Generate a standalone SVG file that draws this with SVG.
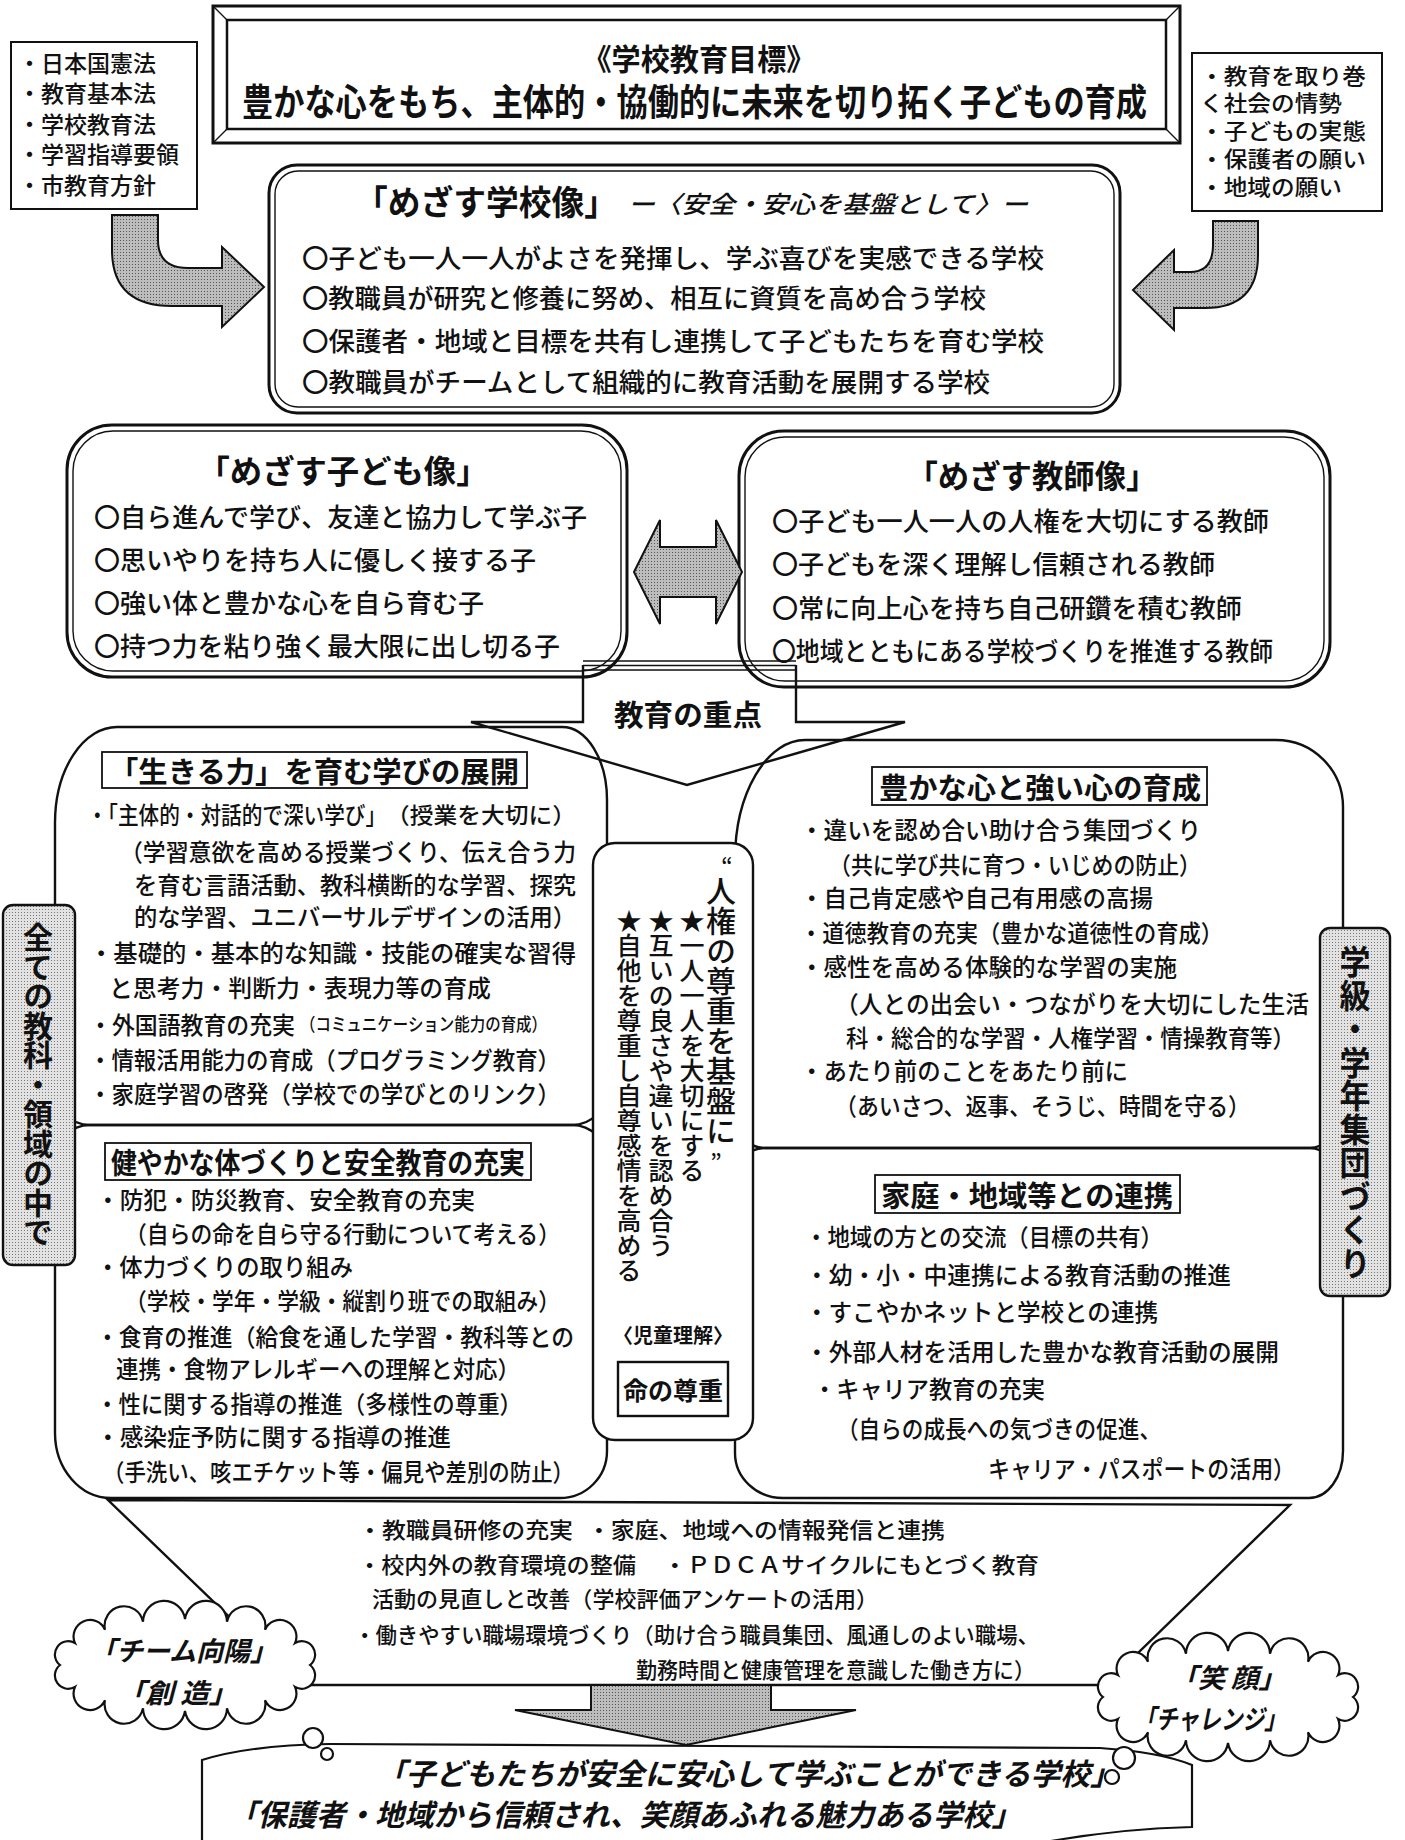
<svg xmlns="http://www.w3.org/2000/svg" width="1405" height="1840" viewBox="0 0 1405 1840">
<defs>
<style>
text{font-family:"Noto Sans CJK JP","Noto Sans CJK SC",sans-serif;fill:#111;dominant-baseline:central;font-weight:500}
.b{font-weight:700}
.i{font-style:italic}
.f24{font-size:24px}
.f23{font-size:23px}
.f26{font-size:26px}
.f22{font-size:22px}
.ln{fill:none;stroke:#111;stroke-width:2.4}
.th{fill:none;stroke:#111;stroke-width:1.4}
.wb{fill:#fff;stroke:#111;stroke-width:2.2}
.hb{fill:#fff;stroke:#111;stroke-width:1.8}
.ar{fill:url(#st2);stroke:#111;stroke-width:2}
.bn{fill:url(#st1);stroke:#111;stroke-width:2.4}
.v{writing-mode:vertical-rl}
</style>
<pattern id="st1" width="3" height="3" patternUnits="userSpaceOnUse"><rect width="3" height="3" fill="#e2e2e2"/><rect width="1" height="1" fill="#777"/></pattern>
<pattern id="st2" width="3" height="3" patternUnits="userSpaceOnUse"><rect width="3" height="3" fill="#bdbdbd"/><rect width="1" height="1" fill="#555"/></pattern>
</defs>
<rect width="1405" height="1840" fill="#fff"/>

<g id="title">
  <rect x="213" y="6" width="967" height="137" fill="#fff" stroke="#111" stroke-width="3"/>
  <rect x="227" y="20" width="939" height="109" fill="none" stroke="#111" stroke-width="2.5"/>
  <path class="th" d="M213,6 L227,20 M1180,6 L1166,20 M213,143 L227,129 M1180,143 L1166,129"/>
  <text x="699" y="57" class="b" font-size="30" text-anchor="middle" textLength="233" lengthAdjust="spacingAndGlyphs">《学校教育目標》</text>
  <text x="242" y="100" class="b" font-size="37" textLength="905" lengthAdjust="spacingAndGlyphs">豊かな心をもち、主体的・協働的に未来を切り拓く子どもの育成</text>
</g>

<g id="laws">
  <rect x="11" y="42" width="186" height="167" fill="#fff" stroke="#111" stroke-width="2"/>
  <text x="18" y="62" class="f23">・日本国憲法</text>
  <text x="18" y="92" class="f23">・教育基本法</text>
  <text x="18" y="123" class="f23">・学校教育法</text>
  <text x="18" y="153" class="f23">・学習指導要領</text>
  <text x="18" y="184" class="f23">・市教育方針</text>
</g>

<g id="context">
  <rect x="1192" y="53" width="190" height="158" fill="#fff" stroke="#111" stroke-width="2"/>
  <text x="1200" y="74" class="f22" textLength="166" lengthAdjust="spacingAndGlyphs">・教育を取り巻</text>
  <text x="1200" y="101" class="f22" textLength="142" lengthAdjust="spacingAndGlyphs">く社会の情勢</text>
  <text x="1200" y="129" class="f22" textLength="166" lengthAdjust="spacingAndGlyphs">・子どもの実態</text>
  <text x="1200" y="157" class="f22" textLength="166" lengthAdjust="spacingAndGlyphs">・保護者の願い</text>
  <text x="1200" y="185" class="f22" textLength="142" lengthAdjust="spacingAndGlyphs">・地域の願い</text>
</g>

<g id="school">
  <rect x="269" y="165" width="851" height="248" rx="28" fill="#fff" stroke="#111" stroke-width="3"/>
  <rect x="275" y="171" width="839" height="236" rx="23" class="th"/>
  <text x="355" y="200" class="b" font-size="34" textLength="262" lengthAdjust="spacingAndGlyphs">「めざす学校像」</text>
  <text x="628" y="202" class="i" font-size="24" textLength="400" lengthAdjust="spacingAndGlyphs">ー〈安全・安心を基盤として〉ー</text>
  <text x="302" y="256" class="f26" textLength="742" lengthAdjust="spacingAndGlyphs">〇子ども一人一人がよさを発揮し、学ぶ喜びを実感できる学校</text>
  <text x="302" y="296" class="f26" textLength="684" lengthAdjust="spacingAndGlyphs">〇教職員が研究と修養に努め、相互に資質を高め合う学校</text>
  <text x="302" y="339" class="f26" textLength="742" lengthAdjust="spacingAndGlyphs">〇保護者・地域と目標を共有し連携して子どもたちを育む学校</text>
  <text x="302" y="380" class="f26" textLength="688" lengthAdjust="spacingAndGlyphs">〇教職員がチームとして組織的に教育活動を展開する学校</text>
</g>

<g id="child">
  <rect x="67" y="425" width="560" height="252" rx="45" fill="#fff" stroke="#111" stroke-width="3"/>
  <rect x="73" y="431" width="548" height="240" rx="40" class="th"/>
  <text x="343" y="469" class="b" font-size="32" text-anchor="middle" textLength="291" lengthAdjust="spacingAndGlyphs">「めざす子ども像」</text>
  <text x="94" y="515" class="f26" textLength="493" lengthAdjust="spacingAndGlyphs">〇自ら進んで学び、友達と協力して学ぶ子</text>
  <text x="94" y="558" class="f26" textLength="442" lengthAdjust="spacingAndGlyphs">〇思いやりを持ち人に優しく接する子</text>
  <text x="94" y="601" class="f26" textLength="390" lengthAdjust="spacingAndGlyphs">〇強い体と豊かな心を自ら育む子</text>
  <text x="94" y="644" class="f26" textLength="466" lengthAdjust="spacingAndGlyphs">〇持つ力を粘り強く最大限に出し切る子</text>
</g>

<g id="teacher">
  <rect x="739" y="431" width="591" height="256" rx="45" fill="#fff" stroke="#111" stroke-width="3"/>
  <rect x="745" y="437" width="579" height="244" rx="40" class="th"/>
  <text x="1032" y="474" class="b" font-size="32" text-anchor="middle" textLength="251" lengthAdjust="spacingAndGlyphs">「めざす教師像」</text>
  <text x="772" y="519" class="f26" textLength="497" lengthAdjust="spacingAndGlyphs">〇子ども一人一人の人権を大切にする教師</text>
  <text x="772" y="562" class="f26" textLength="443" lengthAdjust="spacingAndGlyphs">〇子どもを深く理解し信頼される教師</text>
  <text x="772" y="606" class="f26" textLength="470" lengthAdjust="spacingAndGlyphs">〇常に向上心を持ち自己研鑽を積む教師</text>
  <text x="772" y="649" class="f26" textLength="501" lengthAdjust="spacingAndGlyphs">〇地域とともにある学校づくりを推進する教師</text>
</g>

<g id="bubble-ikiru">
  <path class="ln" d="M117,727 H562 A45,73 0 0 1 607,800 V1090 A35,35 0 0 1 572,1125 H90 A35,35 0 0 1 55,1090 V823 A62,96 0 0 1 117,727 Z"/>
  <rect x="102" y="752" width="425" height="36" class="hb"/>
  <text x="314" y="770" class="b" font-size="29" text-anchor="middle" textLength="410" lengthAdjust="spacingAndGlyphs">「生きる力」を育む学びの展開</text>
  <text x="87" y="813" class="f24" textLength="299" lengthAdjust="spacingAndGlyphs">・「主体的・対話的で深い学び」</text>
  <text x="386" y="813" class="f22" textLength="190" lengthAdjust="spacingAndGlyphs">（授業を大切に）</text>
  <text x="120" y="850" class="f24" textLength="456" lengthAdjust="spacingAndGlyphs">（学習意欲を高める授業づくり、伝え合う力</text>
  <text x="134" y="883" class="f24" textLength="442" lengthAdjust="spacingAndGlyphs">を育む言語活動、教科横断的な学習、探究</text>
  <text x="134" y="915" class="f24" textLength="442" lengthAdjust="spacingAndGlyphs">的な学習、ユニバーサルデザインの活用）</text>
  <text x="89" y="951" class="f24" textLength="487" lengthAdjust="spacingAndGlyphs">・基礎的・基本的な知識・技能の確実な習得</text>
  <text x="109" y="986" class="f24" textLength="382" lengthAdjust="spacingAndGlyphs">と思考力・判断力・表現力等の育成</text>
  <text x="89" y="1023" class="f24" textLength="206" lengthAdjust="spacingAndGlyphs">・外国語教育の充実</text>
  <text x="300" y="1023" font-size="18" textLength="247" lengthAdjust="spacingAndGlyphs">（コミュニケーション能力の育成）</text>
  <text x="89" y="1058" class="f24" textLength="471" lengthAdjust="spacingAndGlyphs">・情報活用能力の育成（プログラミング教育）</text>
  <text x="89" y="1092" class="f24" textLength="471" lengthAdjust="spacingAndGlyphs">・家庭学習の啓発（学校での学びとのリンク）</text>
</g>

<g id="bubble-yutaka">
  <path class="ln" d="M805,740 H1276 A67,67 0 0 1 1343,807 V1113 A35,35 0 0 1 1308,1148 H765 A30,30 0 0 1 735,1118 V860 A70,120 0 0 1 805,740 Z"/>
  <rect x="872" y="767" width="335" height="38" class="hb"/>
  <text x="1040" y="786" class="b" font-size="29" text-anchor="middle" textLength="322" lengthAdjust="spacingAndGlyphs">豊かな心と強い心の育成</text>
  <text x="800" y="828" class="f24" textLength="401" lengthAdjust="spacingAndGlyphs">・違いを認め合い助け合う集団づくり</text>
  <text x="829" y="863" class="f24" textLength="372" lengthAdjust="spacingAndGlyphs">（共に学び共に育つ・いじめの防止）</text>
  <text x="800" y="896" class="f24" textLength="353" lengthAdjust="spacingAndGlyphs">・自己肯定感や自己有用感の高揚</text>
  <text x="800" y="931" class="f24" textLength="423" lengthAdjust="spacingAndGlyphs">・道徳教育の充実（豊かな道徳性の育成）</text>
  <text x="800" y="965" class="f24" textLength="377" lengthAdjust="spacingAndGlyphs">・感性を高める体験的な学習の実施</text>
  <text x="835" y="1002" class="f24" textLength="474" lengthAdjust="spacingAndGlyphs">（人との出会い・つながりを大切にした生活</text>
  <text x="846" y="1036" class="f24" textLength="449" lengthAdjust="spacingAndGlyphs">科・総合的な学習・人権学習・情操教育等）</text>
  <text x="800" y="1069" class="f24" textLength="328" lengthAdjust="spacingAndGlyphs">・あたり前のことをあたり前に</text>
  <text x="835" y="1104" class="f24" textLength="415" lengthAdjust="spacingAndGlyphs">（あいさつ、返事、そうじ、時間を守る）</text>
</g>

<g id="bubble-sukoyaka">
  <path class="ln" d="M90,1125 H572 A35,35 0 0 1 607,1160 V1451 A47,47 0 0 1 560,1498 H111 A56,65 0 0 1 55,1433 V1160 A35,35 0 0 1 90,1125 Z"/>
  <rect x="105" y="1143" width="426" height="37" class="hb"/>
  <text x="318" y="1161" class="b" font-size="29" text-anchor="middle" textLength="414" lengthAdjust="spacingAndGlyphs">健やかな体づくりと安全教育の充実</text>
  <text x="96" y="1198" class="f24" textLength="379" lengthAdjust="spacingAndGlyphs">・防犯・防災教育、安全教育の充実</text>
  <text x="125" y="1232" class="f24" textLength="435" lengthAdjust="spacingAndGlyphs">（自らの命を自ら守る行動について考える）</text>
  <text x="96" y="1265" class="f24" textLength="257" lengthAdjust="spacingAndGlyphs">・体力づくりの取り組み</text>
  <text x="125" y="1299" class="f24" textLength="435" lengthAdjust="spacingAndGlyphs">（学校・学年・学級・縦割り班での取組み）</text>
  <text x="96" y="1335" class="f24" textLength="478" lengthAdjust="spacingAndGlyphs">・食育の推進（給食を通した学習・教科等との</text>
  <text x="116" y="1367" class="f24" textLength="404" lengthAdjust="spacingAndGlyphs">連携・食物アレルギーへの理解と対応）</text>
  <text x="96" y="1402" class="f24" textLength="426" lengthAdjust="spacingAndGlyphs">・性に関する指導の推進（多様性の尊重）</text>
  <text x="96" y="1435" class="f24" textLength="355" lengthAdjust="spacingAndGlyphs">・感染症予防に関する指導の推進</text>
  <text x="103" y="1470" class="f24" textLength="471" lengthAdjust="spacingAndGlyphs">（手洗い、咳エチケット等・偏見や差別の防止）</text>
</g>

<g id="bubble-katei">
  <path class="ln" d="M765,1148 H1308 A35,35 0 0 1 1343,1183 V1451 A34,47 0 0 1 1309,1498 H783 A48,45 0 0 1 735,1453 V1178 A30,30 0 0 1 765,1148 Z"/>
  <rect x="875" y="1175" width="305" height="38" class="hb"/>
  <text x="1027" y="1194" class="b" font-size="29" text-anchor="middle" textLength="292" lengthAdjust="spacingAndGlyphs">家庭・地域等との連携</text>
  <text x="805" y="1235" class="f24" textLength="358" lengthAdjust="spacingAndGlyphs">・地域の方との交流（目標の共有）</text>
  <text x="805" y="1273" class="f24" textLength="426" lengthAdjust="spacingAndGlyphs">・幼・小・中連携による教育活動の推進</text>
  <text x="805" y="1310" class="f24" textLength="353" lengthAdjust="spacingAndGlyphs">・すこやかネットと学校との連携</text>
  <text x="805" y="1350" class="f24" textLength="474" lengthAdjust="spacingAndGlyphs">・外部人材を活用した豊かな教育活動の展開</text>
  <text x="813" y="1387" class="f24" textLength="232" lengthAdjust="spacingAndGlyphs">・キャリア教育の充実</text>
  <text x="837" y="1427" class="f24" textLength="324" lengthAdjust="spacingAndGlyphs">（自らの成長への気づきの促進、</text>
  <text x="988" y="1467" class="f24" textLength="307" lengthAdjust="spacingAndGlyphs">キャリア・パスポートの活用）</text>
</g>

<g id="center">
  <rect x="593" y="843" width="160" height="597" rx="22" fill="#fff" stroke="#111" stroke-width="2.4"/>
  <text x="727" y="864" font-size="22" text-anchor="middle">“</text>
  <text x="721" y="876" class="v" font-size="30" textLength="270" lengthAdjust="spacingAndGlyphs">人権の尊重を基盤に</text>
  <text x="716" y="1160" font-size="22" text-anchor="middle">”</text>
  <text x="692" y="908" class="v" font-size="25">★一人一人を大切にする</text>
  <text x="661" y="908" class="v" font-size="25">★互いの良さや違いを認め合う</text>
  <text x="629" y="908" class="v" font-size="25">★自他を尊重し自尊感情を高める</text>
  <text x="673" y="1334" class="b" font-size="20" text-anchor="middle">〈児童理解〉</text>
  <rect x="618" y="1362" width="110" height="54" fill="#fff" stroke="#111" stroke-width="2.4"/>
  <text x="673" y="1389" class="b" font-size="25" text-anchor="middle">命の尊重</text>
</g>

<g id="juten">
  <path class="ln" d="M583,665 V722 H471 L687,785 L905,722 H796 V665"/>
  <path class="th" d="M583,661 H796 M583,665.5 H796 M583,670 H796"/>
  <text x="688" y="713" class="b" font-size="29" text-anchor="middle" textLength="148" lengthAdjust="spacingAndGlyphs">教育の重点</text>
</g>

<g id="banner-left">
  <rect x="3" y="905" width="72" height="360" rx="10" class="bn"/>
  <text x="38" y="922" class="v b" font-size="30" textLength="325" lengthAdjust="spacingAndGlyphs">全ての教科・領域の中で</text>
</g>

<g id="banner-right">
  <rect x="1320" y="928" width="70" height="368" rx="10" class="bn"/>
  <text x="1355" y="945" class="v b" font-size="31" textLength="335" lengthAdjust="spacingAndGlyphs">学級・学年集団づくり</text>
</g>

<g id="management">
  <text x="358" y="1528" class="f22" textLength="215" lengthAdjust="spacingAndGlyphs">・教職員研修の充実</text>
  <text x="587" y="1528" class="f22" textLength="358" lengthAdjust="spacingAndGlyphs">・家庭、地域への情報発信と連携</text>
  <text x="358" y="1563" class="f22" textLength="278" lengthAdjust="spacingAndGlyphs">・校内外の教育環境の整備</text>
  <text x="663" y="1563" class="f22" textLength="376" lengthAdjust="spacingAndGlyphs">・ＰＤＣＡサイクルにもとづく教育</text>
  <text x="372" y="1597" class="f22" textLength="506" lengthAdjust="spacingAndGlyphs">活動の見直しと改善（学校評価アンケートの活用）</text>
  <text x="354" y="1633" class="f22" textLength="685" lengthAdjust="spacingAndGlyphs">・働きやすい職場環境づくり（助け合う職員集団、風通しのよい職場、</text>
  <text x="636" y="1668" class="f22" textLength="399" lengthAdjust="spacingAndGlyphs">勤務時間と健康管理を意識した働き方に）</text>
</g>

<g id="goal">
  <path class="wb" d="M202,1760 Q250,1745 330,1744 L1100,1748 Q1160,1752 1192,1765 V1827 Q1110,1829 1030,1845 L202,1845 Z"/>
  <text x="376" y="1772" class="b i" font-size="30" textLength="744" lengthAdjust="spacingAndGlyphs">「子どもたちが安全に安心して学ぶことができる学校」</text>
  <text x="228" y="1813" class="b i" font-size="30" textLength="793" lengthAdjust="spacingAndGlyphs">「保護者・地域から信頼され、笑顔あふれる魅力ある学校」</text>
</g>

<g id="connectors">
  <path id="arrow-left" class="ar" d="M112,215 H158 V240 Q158,268 188,268 H222 V247 L264,287 L222,327 V306 H172 Q112,306 112,250 Z"/>
  <path id="arrow-right" class="ar" d="M1258,221 H1213 V245 Q1213,272 1190,272 H1174 V250 L1133,290 L1174,330 V308 H1205 Q1258,308 1258,255 Z"/>
  <path id="arrow-double" class="ar" d="M634,572 L660,520 V547 H716 V520 L742,572 L716,624 V597 H660 V624 Z"/>
  <path id="funnel" class="ln" d="M108,1500 L1290,1505 L1105,1685 L300,1685 Z"/>
  <path id="arrow-down" class="ar" d="M591,1685 H771 V1710 H856 L686,1745 L515,1710 H591 Z"/>
</g>

<g id="cloud-left">
  <path class="wb" d="M185,1619 A21.1,21.1 0 0 1 227,1621.7 A19.4,19.4 0 0 1 265,1629.7 A16.4,16.4 0 0 1 295,1643.1 A13.3,13.3 0 0 1 310,1665 A13.3,13.3 0 0 1 295,1686.9 A16.4,16.4 0 0 1 265,1700.3 A19.4,19.4 0 0 1 227,1708.3 A21.1,21.1 0 0 1 185,1711 A21.1,21.1 0 0 1 143,1708.3 A19.4,19.4 0 0 1 105,1700.3 A16.4,16.4 0 0 1 75,1686.9 A13.3,13.3 0 0 1 60,1665 A13.3,13.3 0 0 1 75,1643.1 A16.4,16.4 0 0 1 105,1629.7 A19.4,19.4 0 0 1 143,1621.7 A21.1,21.1 0 0 1 185,1619 Z"/>
  <circle cx="313" cy="1738" r="10" class="wb"/>
  <circle cx="327" cy="1754" r="6" class="wb"/>
  <text x="183" y="1649" class="b i" font-size="27" text-anchor="middle" textLength="188" lengthAdjust="spacingAndGlyphs">「チーム向陽」</text>
  <text x="177" y="1691" class="b i" font-size="27" text-anchor="middle" textLength="121" lengthAdjust="spacingAndGlyphs">「創 造」</text>
</g>

<g id="cloud-right">
  <path class="wb" d="M1228,1651 A21.1,21.1 0 0 1 1270,1653.7 A19.4,19.4 0 0 1 1308,1661.7 A16.4,16.4 0 0 1 1338,1675.1 A13.3,13.3 0 0 1 1353,1697 A13.3,13.3 0 0 1 1338,1718.9 A16.4,16.4 0 0 1 1308,1732.3 A19.4,19.4 0 0 1 1270,1740.3 A21.1,21.1 0 0 1 1228,1743 A21.1,21.1 0 0 1 1186,1740.3 A19.4,19.4 0 0 1 1148,1732.3 A16.4,16.4 0 0 1 1118,1718.9 A13.3,13.3 0 0 1 1103,1697 A13.3,13.3 0 0 1 1118,1675.1 A16.4,16.4 0 0 1 1148,1661.7 A19.4,19.4 0 0 1 1186,1653.7 A21.1,21.1 0 0 1 1228,1651 Z"/>
  <circle cx="1124" cy="1758" r="11" class="wb"/>
  <circle cx="1112" cy="1777" r="7" class="wb"/>
  <text x="1228" y="1676" class="b i" font-size="27" text-anchor="middle" textLength="116" lengthAdjust="spacingAndGlyphs">「笑 顔」</text>
  <text x="1210" y="1717" class="b i" font-size="27" text-anchor="middle" textLength="152" lengthAdjust="spacingAndGlyphs">「チャレンジ」</text>
</g>
</svg>
